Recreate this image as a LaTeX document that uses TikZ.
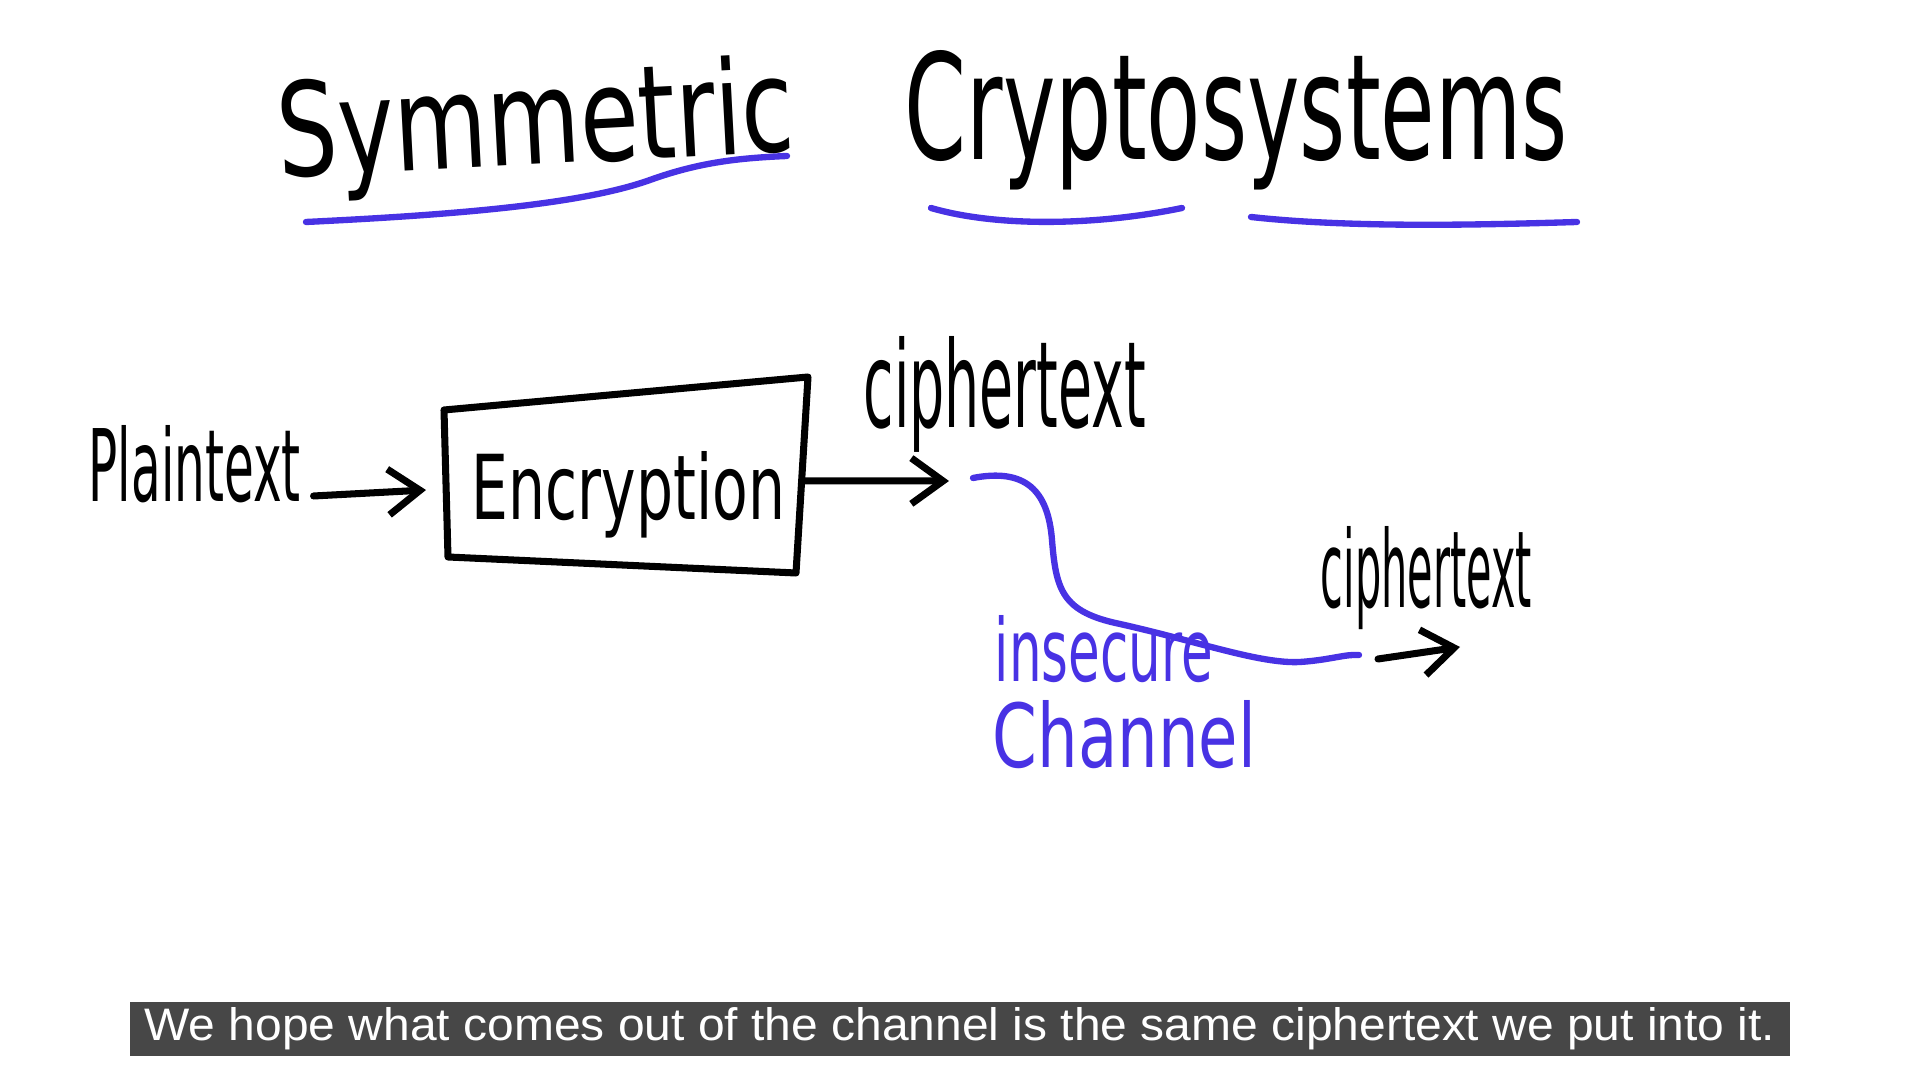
\documentclass[tikz,border=0pt]{standalone}
\usepackage{fontspec}
\usepackage{graphicx}
\usetikzlibrary{calc, arrows.meta, positioning}
\setmainfont{DejaVu Sans}
\newfontfamily\handfont{DejaVu Sans}
\newfontfamily\capfont{Liberation Sans}
\definecolor{marker}{RGB}{72,50,228}
\definecolor{capbg}{RGB}{71,71,71}
\newcommand{\handWord}[3]{\resizebox{#1}{#2}{\handfont #3}}

\begin{document}
\begin{tikzpicture}[x=0.01cm, y=-0.01cm,
  pen/.style={line width=2pt, line cap=round, line join=round},
  bluepen/.style={pen, draw=marker, line width=1.8pt},
  barb/.style={-{Straight Barb[length=9pt, width=13pt]}},
  word/.style={inner sep=0pt, anchor=base west}]
  \useasboundingbox (0,0) rectangle (1920,1080);
  \fill[white] (0,0) rectangle (1920,1080);

  % title
  \node[word, rotate=3] (symm) at (279,178) {\handWord{5.17cm}{0.99cm}{Symmetric}};
  \node[word] (crypto) at (904,160) {\handWord{6.63cm}{1.09cm}{Cryptosystems}};
  \draw[bluepen] (306,222) .. controls (450,215) and (580,205) .. (650,180) .. controls (700,162) and (740,158) .. (787,156);
  \draw[bluepen] (931,208) .. controls (1000,228) and (1100,225) .. (1182,208);
  \draw[bluepen] (1251,217) .. controls (1350,228) and (1480,225) .. (1577,222);

  % encryption
  \node[word] (plain) at (88,502) {\handWord{2.12cm}{0.76cm}{Plaintext}};
  \coordinate (boxTL) at (444,410);
  \coordinate (boxTR) at (808,377);
  \coordinate (boxBR) at (796,573);
  \coordinate (boxBL) at (448,557);
  \draw[pen] (boxTL) -- (boxTR) -- (boxBR) -- (boxBL) -- cycle;
  \node[word] (enc) at (471,520) {\handWord{3.13cm}{0.68cm}{Encryption}};
  \coordinate (plainTip) at (426,490);
  \draw[pen, barb] ($(plain.base east)+(12,-6)$) -- (plainTip);
  \coordinate (encOut) at ($(boxTR)!0.53!(boxBR)$);
  \coordinate (cipherTip) at (949,481);
  \draw[pen, barb] (encOut) -- (cipherTip);
  \node[word] (cipherA) at (863,428) {\handWord{2.82cm}{0.91cm}{ciphertext}};

  % channel
  \coordinate (chanIn) at (973,478);
  \coordinate (chanOut) at (1359,655);
  \draw[bluepen] (chanIn) .. controls (1025,468) and (1048,490) .. (1052,540)
    .. controls (1056,590) and (1062,612) .. (1120,624)
    .. controls (1200,642) and (1260,664) .. (1300,662)
    .. controls (1330,660) and (1345,654) .. (chanOut);
  \node[word, text=marker] (insec) at (994,682) {\handWord{2.18cm}{0.66cm}{insecure}};
  \node[word, text=marker] (chan) at (992,768) {\handWord{2.63cm}{0.67cm}{Channel}};
  \coordinate (outTip) at (1460,647);
  \draw[pen, barb] ($(chanOut)+(19,4)$) -- (outTip);
  \node[word] (cipherB) at (1320,608) {\handWord{2.11cm}{0.81cm}{ciphertext}};

  % subtitle
  \node[fill=capbg, text=white, minimum width=16.6cm, minimum height=0.54cm, inner sep=0pt] (caption) at (960,1029)
    {\resizebox{16.3cm}{0.33cm}{\capfont We hope what comes out of the channel is the same ciphertext we put into it.}};
\end{tikzpicture}
\end{document}
